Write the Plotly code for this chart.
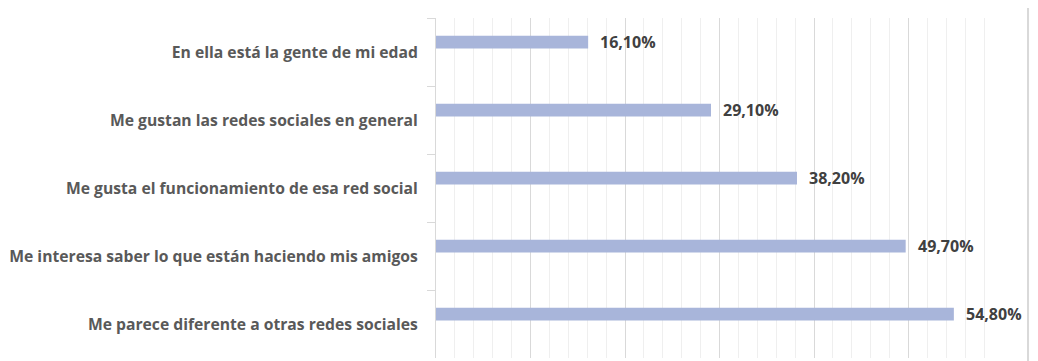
import plotly.graph_objects as go

categories = [
    "En ella está la gente de mi edad",
    "Me gustan las redes sociales en general",
    "Me gusta el funcionamiento de esa red social",
    "Me interesa saber lo que están haciendo mis amigos",
    "Me parece diferente a otras redes sociales",
]
values = [16.10, 29.10, 38.20, 49.70, 54.80]
value_labels = ["16,10%", "29,10%", "38,20%", "49,70%", "54,80%"]

bar_color = "#A8B5DA"
label_font = "Open Sans"

fig = go.Figure()
fig.add_trace(go.Bar(
    x=values,
    y=categories,
    orientation="h",
    marker=dict(color=bar_color, line=dict(width=0)),
    width=0.19,
    offset=-0.24,
    hoverinfo="skip",
))

for v, c, t in zip(values, categories, value_labels):
    fig.add_annotation(
        x=v, y=c, text=f"<b>{t}</b>", showarrow=False,
        xanchor="left", yanchor="middle", xshift=10, yshift=10,
        font=dict(family=label_font, size=16, color="#404040"),
    )

fig.update_layout(
    width=1030, height=353,
    margin=dict(l=428, r=35, t=10, b=3, autoexpand=False),
    paper_bgcolor="white", plot_bgcolor="white",
    showlegend=False,
    font=dict(family=label_font, size=15.7, color="#595959"),
    xaxis=dict(
        range=[0, 60], dtick=10, showgrid=True, gridcolor="#D9D9D9", gridwidth=1,
        showticklabels=False, zeroline=False, showline=False, ticks="",
        minor=dict(dtick=2, showgrid=True, gridcolor="#EFEFEF", gridwidth=1),
        fixedrange=True, automargin=False,
    ),
    yaxis=dict(
        categoryorder="array", categoryarray=categories, autorange="reversed",
        tickson="boundaries", ticks="outside", ticklen=8, tickcolor="#D9D9D9",
        showline=True, linecolor="#D9D9D9", linewidth=1, showgrid=False,
        ticklabelstandoff=14, automargin=False,
        tickfont=dict(family=label_font, size=15.7, color="#595959", weight="bold"),
    ),
    shapes=[dict(type="rect", xref="paper", yref="paper", layer="above",
                 x0=1.0423, x1=1.0459, y0=-0.1, y1=1.1,
                 fillcolor="#D9D9D9", line=dict(width=0))],
)

fig.write_html("out.html")
